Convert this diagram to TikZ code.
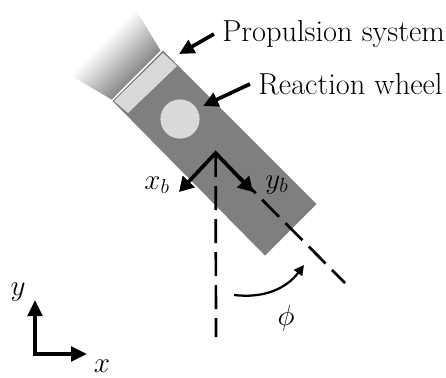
\documentclass[tikz,border=0pt]{standalone}
\usetikzlibrary{arrows.meta}
\definecolor{bodygray}{HTML}{7F7F7F}
\definecolor{lightgray2}{HTML}{D9D9D9}
\definecolor{plumegray}{HTML}{5F5A5A}
\pgfdeclareverticalshading{plumeshade}{100bp}{color(0bp)=(plumegray);color(39bp)=(plumegray);color(55bp)=(white);color(100bp)=(white)}
\tikzset{
  callout/.style={line width=2.6pt,-{Triangle[length=.38cm,width=.36cm]}},
  dashline/.style={line width=1.9pt,dash pattern=on .6cm off .225cm},
  textlabel/.style={inner sep=.2cm,anchor=west,font=\fontsize{21.6}{26}\selectfont},
  mathlabel/.style={inner sep=0pt,font=\huge}
}
\begin{document}
\begin{tikzpicture}[x=1cm,y=1cm]
\useasboundingbox (0,0) rectangle (11.15,9.425);
% plume
\begin{scope}
\clip (4.0125,8.1625) -- (2.7875,6.9375) -- (1.575,7.65) -- (3.25,9.425) -- cycle;
\shade[shading=plumeshade,shading angle=45] (.425,5.525) rectangle (5.425,10.525);
\end{scope}
% body
\draw[fill=bodygray,draw=bodygray,line width=.5pt] (4.075,8.15) -- (7.9,4.325) -- (6.625,3.05) -- (2.825,6.9) -- cycle;
\fill[lightgray2] (4.075,8.1) -- (4.425,7.775) -- (3.2,6.6) -- (2.85,6.9) -- cycle;
\fill[lightgray2] (4.5,6.45) circle (.49);
% frames
\coordinate (bodyorigin) at (5.39,5.6);
\coordinate (xbtip) at (4.475,4.625);
\coordinate (ybtip) at (6.325,4.625);
\coordinate (vertend) at (5.4,1);
\coordinate (diagend) at (8.625,2.35);
\draw[dashline] (bodyorigin) -- (vertend);
\draw[dashline] (bodyorigin) -- (diagend);
\draw[line width=2.6pt,{Triangle[length=.36cm,width=.4cm]}-{Triangle[length=.36cm,width=.4cm]}] (xbtip) -- (bodyorigin) -- (ybtip);
\node[mathlabel] (xblabel) at (3.925,4.8) {$x_b$};
\node[mathlabel] (yblabel) at (6.925,4.8) {$y_b$};
% angle
\coordinate (arcstart) at (5.85,2.05);
\coordinate (arcend) at (7.6,2.8);
\draw[line width=1.6pt,-{Triangle[length=.25cm,width=.25cm]}] (arcstart) to[bend right=30] (arcend);
\node[mathlabel] (philabel) at (7.15,1.475) {$\phi$};
% labels
\node[textlabel] (propsystem) at (5.35,8.575) {Propulsion system};
\node[textlabel] (reactwheel) at (6.25,7.325) {Reaction wheel};
\coordinate (proptip) at (4.475,8.075);
\coordinate (reacttip) at (5.075,6.775);
\draw[callout] (propsystem.west) -- (proptip);
\draw[callout] (reactwheel.west) -- (reacttip);
% world frame
\coordinate (worldorigin) at (.875,.575);
\coordinate (worldy) at (.875,1.925);
\coordinate (worldx) at (2.175,.575);
\draw[line width=3.3pt,{Triangle[length=.4cm,width=.36cm]}-{Triangle[length=.4cm,width=.36cm]}] (worldy) -- (worldorigin) -- (worldx);
\node[mathlabel] (ylabel) at (.45,2.125) {$y$};
\node[mathlabel] (xlabel) at (2.55,.27) {$x$};
\end{tikzpicture}
\end{document}
